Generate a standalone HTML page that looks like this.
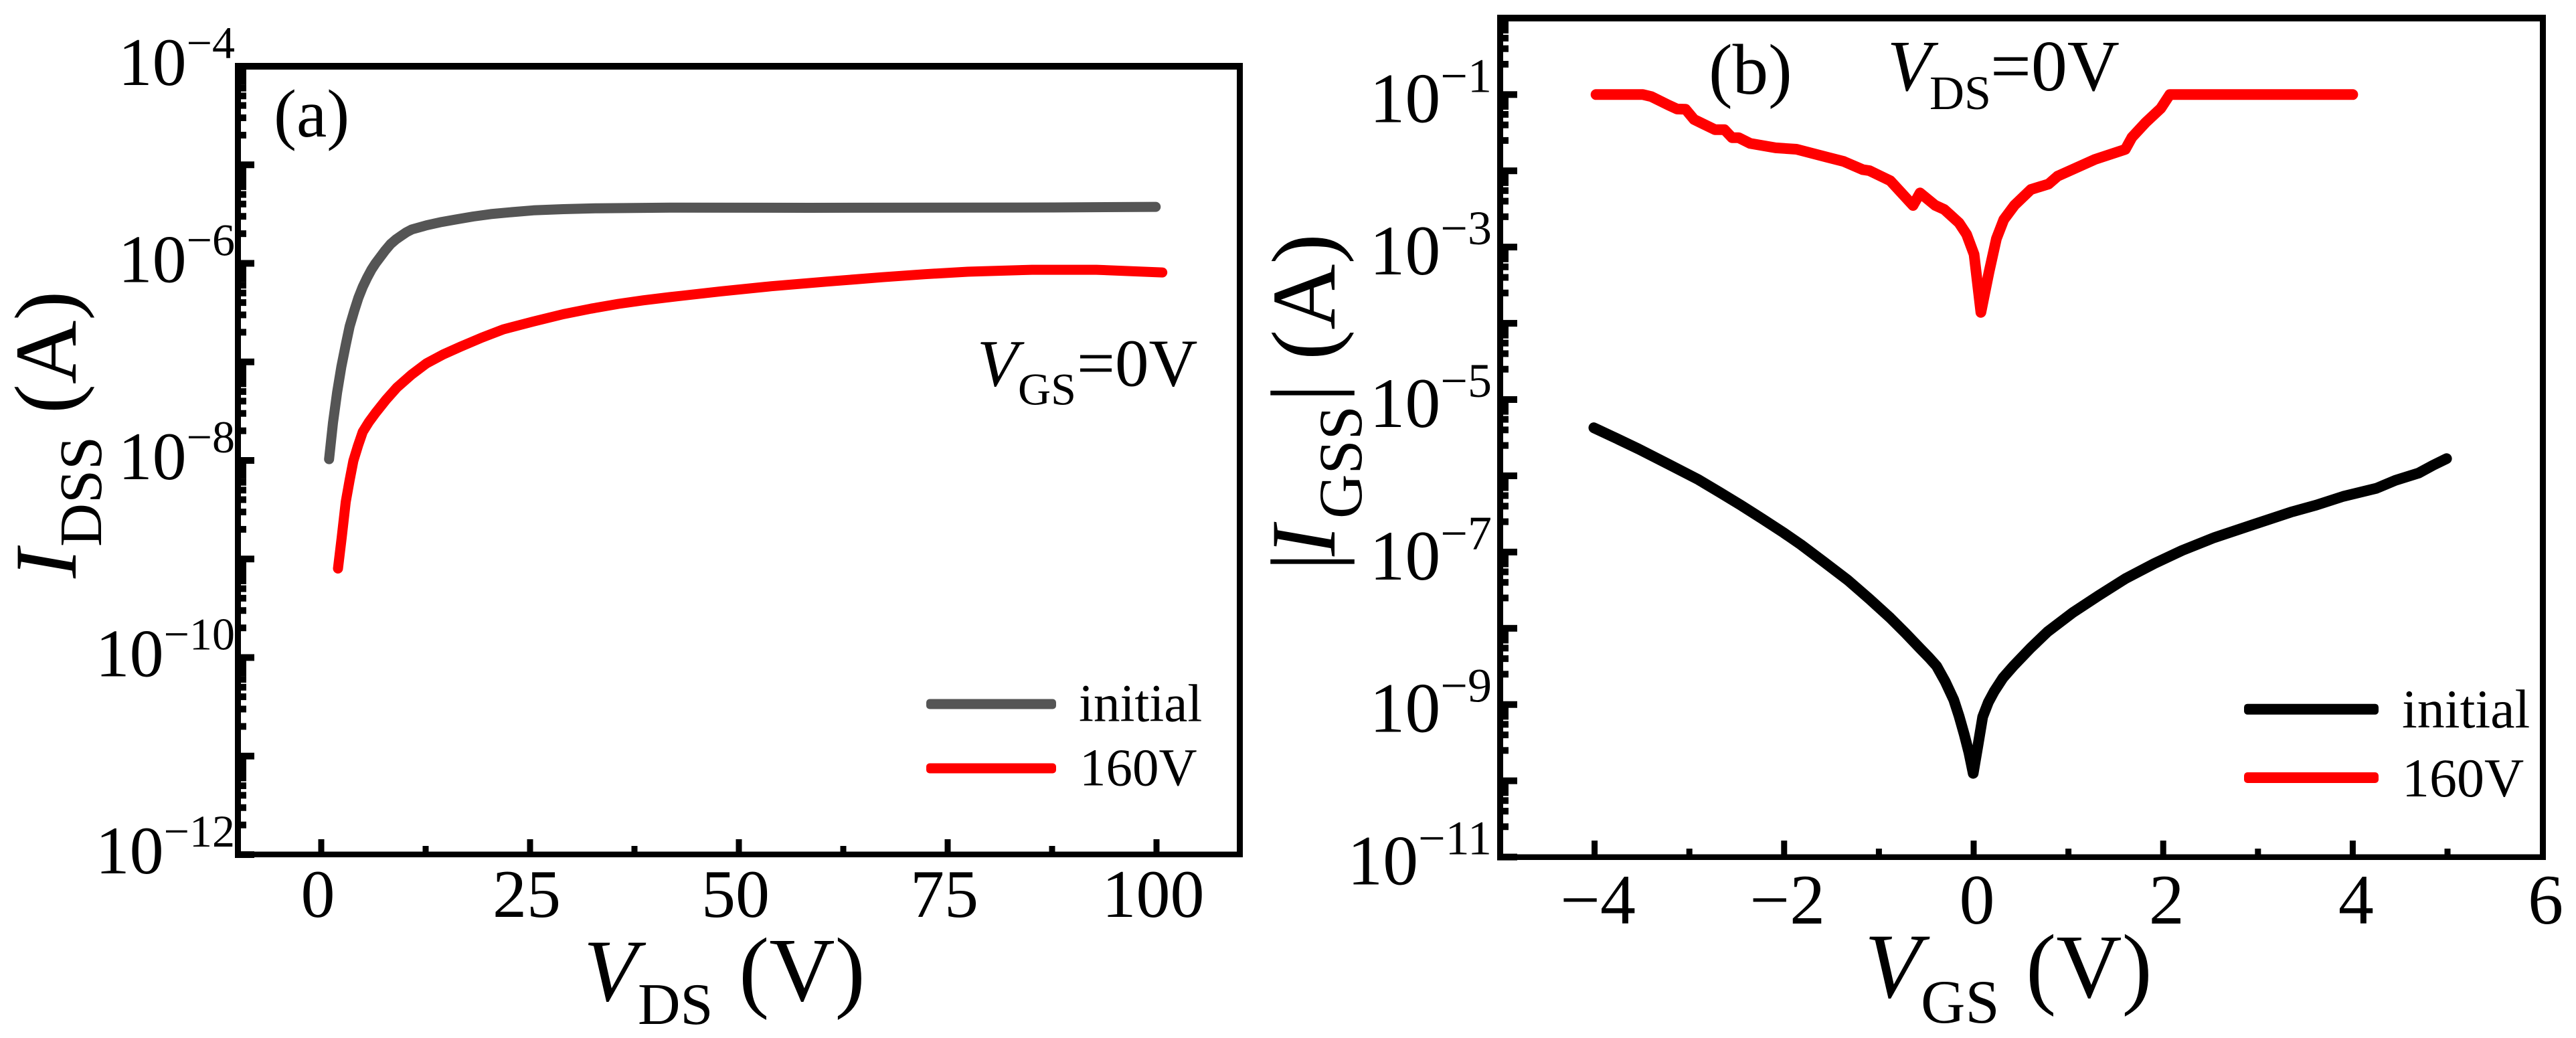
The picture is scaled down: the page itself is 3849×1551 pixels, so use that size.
<!DOCTYPE html>
<html lang="en">
<head>
<meta charset="utf-8">
<title>I-V characteristics: IDSS and IGSS</title>
<style>
html,body{margin:0;padding:0;background:#fff;width:3849px;height:1551px;overflow:hidden}
svg{display:block;font-family:"Liberation Serif","Times New Roman",serif;fill:#000}
.i{font-style:italic}
</style>
</head>
<body>
<svg id="chart" xmlns="http://www.w3.org/2000/svg" width="3849" height="1551" viewBox="0 0 3849 1551">
  <rect x="0" y="0" width="3849" height="1551" fill="#fff"/>
  <g id="panelA">
    <g id="serA"></g>
    <g id="axA"></g>
    <text x="409" y="204" font-size="102">(a)</text>
    <g>
      <text class="i" x="1460" y="576.5" font-size="100">V</text>
      <text x="1521" y="604.6" font-size="68">GS</text>
      <text x="1609" y="576.5" font-size="101">=0V</text>
    </g>
    <g>
      <rect x="1384" y="1044.5" width="194" height="15" rx="5" fill="#555"/>
      <text x="1612" y="1077.5" font-size="79">initial</text>
      <rect x="1384" y="1140.5" width="194" height="15" rx="5" fill="#f00"/>
      <text x="1613" y="1173.5" font-size="79">160V</text>
    </g>
    <g>
      <text class="i" x="872" y="1495" font-size="132">V</text>
      <text x="953" y="1530" font-size="88">DS</text>
      <text x="1104" y="1495" font-size="136">(V)</text>
    </g>
    <g>
      <text class="i" transform="translate(113,864) rotate(-90)" font-size="132">I</text>
      <text transform="translate(151,817) rotate(-90)" font-size="90">DSS</text>
      <text transform="translate(113,618) rotate(-90)" font-size="132">(A)</text>
    </g>
  </g>
  <g id="panelB">
    <g id="serB"></g>
    <g id="axB"></g>
    <text x="2553" y="140" font-size="107">(b)</text>
    <g>
      <text class="i" x="2820" y="135" font-size="108">V</text>
      <text x="2883" y="163" font-size="72">DS</text>
      <text x="2974" y="135" font-size="108">=0V</text>
    </g>
    <g>
      <rect x="3353" y="1051.7" width="201" height="16" rx="5" fill="#000"/>
      <text x="3589" y="1087" font-size="82">initial</text>
      <rect x="3353" y="1154" width="201" height="16" rx="5" fill="#f00"/>
      <text x="3589" y="1190" font-size="82">160V</text>
    </g>
    <g>
      <text class="i" x="2786" y="1490" font-size="138">V</text>
      <text x="2870" y="1528" font-size="92">GS</text>
      <text x="3027" y="1490" font-size="136">(V)</text>
    </g>
    <g>
      <text transform="translate(1994,853) rotate(-90)" font-size="138">|</text>
      <text class="i" transform="translate(1994,831) rotate(-90)" font-size="138">I</text>
      <text transform="translate(2034,775) rotate(-90)" font-size="92">GSS</text>
      <text transform="translate(1994,601) rotate(-90)" font-size="138">|</text>
      <text transform="translate(1994,538) rotate(-90)" font-size="136">(A)</text>
    </g>
  </g>
</svg>
<script>
// Panel (a) data
const aInitialV = [0.94,1.4,1.9,2.4,2.93,3.4,3.95,4.45,4.97,5.5,6.0,6.5,7.0,7.65,8.3,8.95,9.6,10.2,10.85,12.6,14.4,16.2,18.2,20.3,22.8,25.4,29,33.1,41.7,58.5,87.7,99.9];
const aInitialI = [1.03e-8,2.4e-8,4.9e-8,8.9e-8,1.49e-7,2.29e-7,3.30e-7,4.47e-7,5.78e-7,7.16e-7,8.61e-7,1.0e-6,1.14e-6,1.35e-6,1.57e-6,1.75e-6,1.91e-6,2.07e-6,2.21e-6,2.43e-6,2.63e-6,2.80e-6,2.99e-6,3.16e-6,3.31e-6,3.45e-6,3.55e-6,3.62e-6,3.68e-6,3.66e-6,3.69e-6,3.74e-6];
const a160V = [2.0,2.45,2.93,3.4,3.85,4.4,4.97,5.7,6.5,7.8,9.06,10.8,12.6,14.6,16.7,19.2,21.8,25.4,29,32.3,35.6,38.6,41.7,47.8,53.9,60.5,67.2,72.3,77.4,85.1,92.8,100.7];
const a160I = [8.0e-10,1.66e-9,3.8e-9,6.3e-9,9.9e-9,1.41e-8,1.95e-8,2.45e-8,3.03e-8,4.17e-8,5.5e-8,7.41e-8,9.66e-8,1.19e-7,1.43e-7,1.76e-7,2.14e-7,2.57e-7,3.05e-7,3.47e-7,3.88e-7,4.22e-7,4.54e-7,5.19e-7,5.86e-7,6.53e-7,7.24e-7,7.76e-7,8.22e-7,8.61e-7,8.61e-7,8.09e-7];
const aXTickValues = [0,25,50,75,100];
const aXTickLabels = ["0","25","50","75","100"];
const aXMinorValues = [12.5,37.5,62.5,87.5];
const aYTickExponents = [-4,-5,-6,-7,-8,-9,-10,-11,-12];
const aYLabelExponents = [-4,-6,-8,-10,-12];
const aYMinorMultipliers = [2,3,4,5,6,7,8,9];

// Panel (b) data
const bInitialV = [-4.008,-3.77,-3.534,-3.22,-2.904,-2.68,-2.454,-2.23,-2.004,-1.823,-1.58,-1.327,-1.1,-0.878,-0.72,-0.562,-0.47,-0.391,-0.30,-0.21,-0.155,-0.10,-0.05,-0.005,0.05,0.095,0.155,0.217,0.31,0.42,0.6,0.78,1.05,1.32,1.6,1.907,2.2,2.535,2.95,3.35,3.616,3.9,4.248,4.45,4.698,4.85,4.99];
const bInitialI = [4.26e-6,3.10e-6,2.24e-6,1.42e-6,8.9e-7,6.08e-7,4.1e-7,2.73e-7,1.79e-7,1.25e-7,7.41e-8,4.27e-8,2.43e-8,1.36e-8,8.67e-9,5.4e-9,4.12e-9,3.2e-9,2.0e-9,1.15e-9,7.08e-10,4.1e-10,2.34e-10,1.25e-10,3.16e-10,6.9e-10,1.07e-9,1.49e-9,2.24e-9,3.21e-9,5.5e-9,9e-9,1.62e-8,2.69e-8,4.47e-8,7.08e-8,1.05e-7,1.54e-7,2.29e-7,3.35e-7,4.13e-7,5.37e-7,6.85e-7,8.71e-7,1.09e-6,1.38e-6,1.68e-6];
const b160V = [-3.985,-3.49,-3.40,-3.22,-3.13,-3.04,-2.95,-2.73,-2.63,-2.55,-2.48,-2.36,-2.09,-1.87,-1.55,-1.37,-1.17,-1.10,-0.88,-0.64,-0.566,-0.406,-0.31,-0.155,-0.075,0.004,0.076,0.162,0.24,0.318,0.43,0.603,0.79,0.886,1.28,1.60,1.67,1.815,1.975,2.07,4.0];
const b160I = [0.1,0.1,0.094,0.0728,0.0646,0.0641,0.0471,0.0347,0.0347,0.0272,0.0272,0.0229,0.02,0.0192,0.0151,0.01324,0.01035,0.01005,0.00741,0.00351,0.00513,0.00353,0.00311,0.002075,0.00147,0.000804,0.000139,0.000468,0.00129,0.00229,0.00353,0.00568,0.0067,0.00851,0.0141,0.0191,0.0275,0.043,0.0661,0.1,0.1];
const bXTickValues = [-4,-2,0,2,4,6];
const bXTickLabels = ["\u22124","\u22122","0","2","4","6"];
const bXMinorValues = [-3,-1,1,3,5];
const bYTickExponents = [0,-1,-2,-3,-4,-5,-6,-7,-8,-9,-10,-11];
const bYLabelExponents = [-1,-3,-5,-7,-9,-11];
const bYMinorMultipliers = [2.5,4,5.5,7,8.5];

// Axis functions
const NS = "http://www.w3.org/2000/svg";
const xA = v => 480 + v * 12.48;
const yA = i => 99 + (-4 - Math.log10(i)) * 147.25;
const xB = v => 2949 + v * 141.6;
const yB = i => 141.3 + (-1 - Math.log10(i)) * 113.93;

function node(tag, attrs, parent) {
  const el = document.createElementNS(NS, tag);
  for (const k in attrs) el.setAttribute(k, attrs[k]);
  parent.appendChild(el);
  return el;
}
function drawLine(parent, xs, ys, fx, fy, color, width, name) {
  const pts = xs.map((v, k) => fx(v).toFixed(1) + "," + fy(ys[k]).toFixed(1)).join(" ");
  const el = node("polyline", {points: pts, fill: "none", stroke: color, "stroke-width": width, "stroke-linecap": "round", "stroke-linejoin": "round"}, parent);
  
  
}
function drawAxes(o) {
  const g = o.parent;
  // y ticks
  o.yExps.forEach(e => {
    const y = o.fy(Math.pow(10, e));
    if (y > o.top && y < o.bottom + 8) {
      const t = node("rect", {x: o.left, y: y - 5, width: o.majorY, height: 10, fill: "#000"}, g);
      
      
    }
    if (e > o.yExps[o.yExps.length - 1]) {
      o.yMult.forEach(m => {
        const ym = o.fy(m * Math.pow(10, e - 1));
        const mt = node("rect", {x: o.left, y: ym - 5, width: o.minorY, height: 10, fill: "#000"}, g);
        
        
      });
    }
  });
  // y labels
  o.yLabels.forEach(e => {
    const y = o.fy(Math.pow(10, e));
    const t = node("text", {x: o.labelRight, y: y + o.labelDy, "text-anchor": "end", "font-size": o.fs}, g);
    
    
    t.appendChild(document.createTextNode("10"));
    const s = node("tspan", {"font-size": o.expFs, dy: -o.expDy}, t);
    s.textContent = "\u2212" + Math.abs(e);
  });
  // x ticks
  o.xTicks.forEach((v, k) => {
    const x = o.fx(v);
    const r = node("rect", {x: x - 4.5, y: o.majorTop, width: 9, height: o.bottom - o.majorTop, fill: "#000"}, g);
    
    
    const t = node("text", {x: x + o.xLabelDx, y: o.xLabelY, "text-anchor": "middle", "font-size": o.fs}, g);
    
    
    t.textContent = o.xLabels[k];
  });
  o.xMinor.forEach(v => {
    const r = node("rect", {x: o.fx(v) - 4.5, y: o.minorTop, width: 9, height: o.bottom - o.minorTop, fill: "#000"}, g);
    
    
  });
  // spines
  const sp = o.spines;
  const top = node("rect", {x: sp.l0, y: sp.t0, width: sp.r1 - sp.l0, height: sp.t1 - sp.t0, fill: "#000"}, g);
  
  
  const bot = node("rect", {x: sp.l0, y: sp.b0, width: sp.r1 - sp.l0, height: sp.b1 - sp.b0, fill: "#000"}, g);
  
  
  const lef = node("rect", {x: sp.l0, y: sp.t0, width: sp.l1 - sp.l0, height: sp.b1 - sp.t0, fill: "#000"}, g);
  
  
  const rig = node("rect", {x: sp.r0, y: sp.t0, width: sp.r1 - sp.r0, height: sp.b1 - sp.t0, fill: "#000"}, g);
  
  
}

const serA = document.getElementById("serA");
drawLine(serA, aInitialV, aInitialI, xA, yA, "#555", 15, "series-initial-a");
drawLine(serA, a160V, a160I, xA, yA, "#f00", 15, "series-160v-a");

const serB = document.getElementById("serB");
drawLine(serB, bInitialV, bInitialI, xB, yB, "#000", 16, "series-initial-b");
drawLine(serB, b160V, b160I, xB, yB, "#f00", 16, "series-160v-b");

drawAxes({
  parent: document.getElementById("axA"), fx: xA, fy: yA,
  yExps: aYTickExponents, yLabels: aYLabelExponents, yMult: aYMinorMultipliers,
  xTicks: aXTickValues, xLabels: aXTickLabels, xMinor: aXMinorValues,
  left: 351, majorY: 29, minorY: 17, top: 100, bottom: 1277,
  majorTop: 1254, minorTop: 1264,
  fs: 102, expFs: 68, expDy: 40, labelDy: 28, labelRight: 351,
  xLabelDx: -5, xLabelY: 1370,
  spines: {l0: 351, l1: 360, r0: 1848, r1: 1857, t0: 94, t1: 104, b0: 1272.5, b1: 1281}
});
drawAxes({
  parent: document.getElementById("axB"), fx: xB, fy: yB,
  yExps: bYTickExponents, yLabels: bYLabelExponents, yMult: bYMinorMultipliers,
  xTicks: bXTickValues.filter(v => v < 6), xLabels: bXTickLabels, xMinor: bXMinorValues,
  left: 2237, majorY: 30, minorY: 17, top: 30, bottom: 1280,
  majorTop: 1256, minorTop: 1268,
  fs: 106, expFs: 72, expDy: 45, labelDy: 41, labelRight: 2229,
  xLabelDx: 5, xLabelY: 1380,
  spines: {l0: 2237, l1: 2246, r0: 3795, r1: 3804, t0: 22, t1: 32, b0: 1276.5, b1: 1285}
});
// Last x-axis label sits at the right spine, which carries no tick of its own
const lastLabel = node("text", {x: xB(bXTickValues[5]) + 5, y: 1380, "text-anchor": "middle", "font-size": 106}, document.getElementById("axB"));


lastLabel.textContent = bXTickLabels[5];
</script>
</body>
</html>
